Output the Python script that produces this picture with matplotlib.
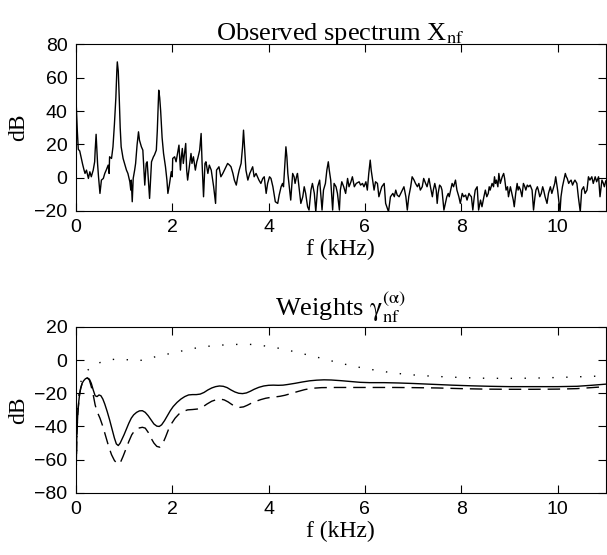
import numpy as np
import matplotlib
matplotlib.use("Agg")
import matplotlib.pyplot as plt

plt.rcParams['font.family'] = ['Liberation Sans', 'DejaVu Sans']
plt.rcParams['mathtext.fontset'] = 'stix'

# observed spectrum (kHz, dB)
spec_khz = [
    0.00, 0.03, 0.05, 0.08, 0.11, 0.14, 0.17, 0.19, 0.22, 0.26,
    0.29, 0.32, 0.36, 0.39, 0.40, 0.42, 0.45, 0.47, 0.50, 0.53,
    0.57, 0.60, 0.63, 0.67, 0.69, 0.70, 0.74, 0.77, 0.80, 0.83,
    0.85, 0.86, 0.88, 0.90, 0.92, 0.94, 0.98, 1.01, 1.05, 1.08,
    1.12, 1.14, 1.15, 1.17, 1.19, 1.22, 1.24, 1.27, 1.30, 1.32,
    1.36, 1.39, 1.43, 1.45, 1.46, 1.48, 1.53, 1.57, 1.61, 1.63,
    1.67, 1.69, 1.71, 1.72, 1.74, 1.76, 1.79, 1.82, 1.86, 1.89,
    1.91, 1.94, 1.98, 2.00, 2.01, 2.05, 2.08, 2.11, 2.14, 2.17,
    2.19, 2.21, 2.23, 2.28, 2.30, 2.32, 2.36, 2.39, 2.41, 2.44,
    2.48, 2.51, 2.53, 2.57, 2.60, 2.62, 2.65, 2.68, 2.70, 2.74,
    2.77, 2.81, 2.86, 2.90, 2.92, 2.97, 3.01, 3.05, 3.10, 3.15,
    3.19, 3.22, 3.26, 3.29, 3.33, 3.36, 3.39, 3.43, 3.46, 3.48,
    3.50, 3.53, 3.57, 3.61, 3.67, 3.70, 3.74, 3.80, 3.84, 3.88,
    3.91, 3.95, 3.98, 4.02, 4.05, 4.09, 4.14, 4.19, 4.22, 4.26,
    4.29, 4.31, 4.34, 4.36, 4.38, 4.40, 4.43, 4.46, 4.50, 4.53,
    4.55, 4.58, 4.60, 4.64, 4.67, 4.71, 4.74, 4.77, 4.81, 4.84,
    4.88, 4.91, 4.95, 4.98, 5.02, 5.06, 5.11, 5.14, 5.18, 5.21,
    5.24, 5.26, 5.29, 5.33, 5.36, 5.40, 5.43, 5.47, 5.49, 5.52,
    5.56, 5.60, 5.64, 5.67, 5.71, 5.74, 5.78, 5.82, 5.88, 5.91,
    5.95, 5.98, 6.02, 6.05, 6.08, 6.11, 6.13, 6.15, 6.19, 6.22,
    6.26, 6.29, 6.35, 6.40, 6.43, 6.49, 6.53, 6.58, 6.61, 6.64,
    6.67, 6.71, 6.76, 6.81, 6.85, 6.88, 6.91, 6.95, 6.98, 7.02,
    7.05, 7.09, 7.12, 7.15, 7.19, 7.22, 7.26, 7.29, 7.33, 7.36,
    7.40, 7.42, 7.45, 7.48, 7.50, 7.52, 7.55, 7.58, 7.60, 7.64,
    7.67, 7.70, 7.73, 7.75, 7.78, 7.81, 7.84, 7.88, 7.91, 7.95,
    7.98, 8.02, 8.05, 8.09, 8.12, 8.16, 8.18, 8.21, 8.24, 8.27,
    8.29, 8.33, 8.36, 8.40, 8.43, 8.47, 8.50, 8.53, 8.56, 8.58,
    8.60, 8.64, 8.67, 8.69, 8.71, 8.73, 8.76, 8.78, 8.81, 8.85,
    8.88, 8.90, 8.93, 8.96, 8.98, 9.02, 9.05, 9.08, 9.10, 9.13,
    9.16, 9.18, 9.20, 9.23, 9.26, 9.29, 9.32, 9.34, 9.37, 9.40,
    9.43, 9.47, 9.50, 9.53, 9.55, 9.58, 9.60, 9.63, 9.66, 9.69,
    9.71, 9.74, 9.78, 9.81, 9.85, 9.88, 9.91, 9.94, 9.96, 9.98,
    10.00, 10.03, 10.05, 10.07, 10.10, 10.13, 10.16, 10.18, 10.20, 10.23,
    10.25, 10.28, 10.31, 10.34, 10.36, 10.40, 10.43, 10.47, 10.50, 10.54,
    10.57, 10.61, 10.64, 10.67, 10.71, 10.74, 10.78, 10.81, 10.85, 10.88,
    10.92, 10.95, 10.97, 11.00,
]
spec_db = [
    49, 28, 17, 16, 12, 8, 4.5, 2.5, 4.5, -0.5,
    3.5, 0.5, 4.5, 9.5, 16, 26, 8.5, 0.5, -9.5, -1.5,
    -0.5, 2.5, 4.5, 7.5, 2.5, 12.5, 11.5, 18.5, 32, 48,
    64, 69.5, 64, 48, 30, 18.5, 11.5, 8.5, 4.5, 2.5,
    -2.5, -7.5, -1.5, -14.5, -0.5, 4.5, 8.5, 19.5, 27.5, 22.5,
    18.5, 16.5, -4.5, 4.5, 8.5, 9.5, -12.5, 9.5, 12.5, 13.5,
    16.5, 28, 44, 52.5, 48, 40, 24, 14.5, 6.5, -1.5,
    -9.5, -4.5, 3.5, 0.5, 11.5, 12.5, 9.5, 14.5, 19.5, 4.5,
    12.5, 17.5, 8.5, 20.5, 4.5, -1.5, 7.5, 14.5, 8.5, 12.5,
    4.5, 9.5, 11.5, 16.5, 26.5, 8.5, -11.5, 8.5, 9.5, 2.5,
    7.5, 4.5, -5.5, -15.5, 4.5, 6.5, 0.5, 2.5, 5.5, 8.5,
    7.5, 6.5, 2.5, -1.5, -4.5, 0.5, 4.5, 8.5, 18.5, 28.5,
    18.5, 4.5, -1.5, 2.5, 6.5, 0.5, 2.5, -1.5, -3.5, -0.5,
    0.5, -9.5, -3.5, 0.5, -0.5, -5.5, -14.5, -15.5, -10.5, -5.5,
    -3.5, -5.5, 8.5, 18.5, 12.5, 2.5, -5.5, -13.5, 2.5, 0.5,
    -3.5, 0.5, 2.5, -7.5, -15.5, -11.5, -5.5, -9.5, -17.5, -19.5,
    -7.5, -3.5, -9.5, -20.5, -5.5, -1.5, -19.5, -7.5, -3.5, 4.5,
    9.5, 4.5, -1.5, -19.5, -3.5, -5.5, -9.5, -19.5, -7.5, -2.5,
    -5.5, -9.5, -0.5, -5.5, -2.5, 0.5, -5.5, -3.5, -2.5, -4.5,
    -3.5, -5.5, -2.5, -7.5, 2.5, 10.5, 4.5, 0.5, -7.5, -2.5,
    -3.5, -11.5, -5.5, -3.5, -15.5, -20.5, -11.5, -9.5, -11.5, -7.5,
    -10.5, -11.5, -8.5, -5.5, -11.5, -19.5, -11.5, -5.5, 0.5, -1.5,
    -3.5, -5.5, -3.5, -7.5, -5.5, -0.5, -3.5, -5.5, -0.5, -5.5,
    -11.5, -7.5, -3.5, -7.5, -15.5, -9.5, -4.5, -5.5, -7.5, -19.5,
    -15.5, -11.5, -9.5, -11.5, -7.5, -3.5, -5.5, -1.5, -7.5, -11.5,
    -15.5, -9.5, -11.5, -10.5, -13.5, -9.5, -10.5, -11.5, -19.5, -11.5,
    -7.5, -5.5, -19.5, -13.5, -17.5, -11.5, -7.5, -11.5, -9.5, -5.5,
    -7.5, -3.5, -5.5, 0.5, -3.5, -1.5, -5.5, 2.5, -3.5, 0.5,
    2.5, -0.5, -7.5, -5.5, -11.5, -5.5, -9.5, -13.5, -17.5, -9.5,
    -3.5, -7.5, -5.5, -7.5, -11.5, -3.5, -5.5, -7.5, -4.5, -5.5,
    -4.5, -7.5, -19.5, -11.5, -7.5, -5.5, -7.5, -11.5, -9.5, -5.5,
    -7.5, -11.5, -15.5, -9.5, -5.5, -9.5, -6.5, -3.5, 0.5, -3.5,
    -7.5, -15.5, -20.5, -11.5, -5.5, -1.5, 2.5, 0.5, -0.5, -3.5,
    -2.5, -1.5, -4.5, -2.5, -1.5, -3.5, -11.5, -20.5, -7.5, -5.5,
    -9.5, -7.5, 0.5, -1.5, 0.5, -3.5, 0.5, -2.5, 0.5, -11.5,
    -1.5, -3.5, -5.5, -2,
]
assert len(spec_khz) == len(spec_db)

# weights, three settings of alpha
w_solid_khz = [0.00, 0.01, 0.02, 0.04, 0.06, 0.08, 0.10, 0.13, 0.16, 0.20,
               0.24, 0.28, 0.32, 0.36, 0.40, 0.44, 0.48, 0.52, 0.56, 0.60,
               0.65, 0.70, 0.75, 0.80, 0.84, 0.88, 0.92, 0.96, 1.00, 1.05,
               1.10, 1.15, 1.20, 1.26, 1.32, 1.38, 1.44, 1.50, 1.56, 1.62,
               1.68, 1.73, 1.78, 1.84, 1.90, 1.96, 2.02, 2.10, 2.18, 2.26,
               2.34, 2.42, 2.50, 2.58, 2.66, 2.74, 2.82, 2.90, 2.98, 3.06,
               3.14, 3.22, 3.30, 3.38, 3.46, 3.54, 3.62, 3.70, 3.80, 3.90,
               4.00, 4.10, 4.20, 4.30, 4.40, 4.55, 4.70, 4.85, 5.00, 5.15,
               5.30, 5.50, 5.70, 5.90, 6.10, 6.40, 6.70, 7.00, 7.40, 7.80,
               8.20, 8.60, 9.00, 9.50, 10.00, 10.40, 10.70, 11.00]
w_solid_db = [-80, -60, -45, -32, -25, -20, -17, -14, -12.5, -11.2,
              -10.8, -11.5, -14, -18, -21.5, -22, -21, -21.5, -23.5, -26.5,
              -31, -36, -41.5, -47, -50.5, -51.5, -50, -47.5, -45, -41.5,
              -38, -35, -33, -31.5, -30.6, -30.5, -31.5, -33.5, -36, -38.5,
              -39.8, -40, -39, -36.5, -33.5, -30.5, -28, -25.5, -23.5, -22,
              -21, -20.8, -20.8, -20.5, -19.5, -18, -16.8, -16, -15.6, -15.8,
              -16.6, -18, -19.2, -20, -20.2, -19.8, -18.8, -17.6, -16.4, -15.6,
              -15.2, -15.1, -15.2, -15.1, -14.7, -14, -13.2, -12.5, -12.1, -11.9,
              -12, -12.4, -12.9, -13.4, -13.6, -13.6, -13.8, -14.1, -14.6, -15.1,
              -15.5, -15.8, -16, -16, -16, -15.8, -15.2, -14.5]

w_dash_khz = [0.00, 0.01, 0.02, 0.04, 0.06, 0.08, 0.10, 0.13, 0.16, 0.20,
              0.24, 0.28, 0.32, 0.36, 0.40, 0.44, 0.50, 0.56, 0.62, 0.68,
              0.74, 0.80, 0.86, 0.92, 0.98, 1.04, 1.10, 1.16, 1.22, 1.30,
              1.38, 1.44, 1.50, 1.56, 1.62, 1.68, 1.74, 1.80, 1.86, 1.92,
              1.98, 2.06, 2.14, 2.22, 2.32, 2.42, 2.52, 2.62, 2.72, 2.82,
              2.92, 3.00, 3.08, 3.16, 3.24, 3.32, 3.40, 3.48, 3.56, 3.64,
              3.74, 3.84, 3.94, 4.04, 4.14, 4.24, 4.34, 4.46, 4.60, 4.75,
              4.90, 5.10, 5.40, 5.80, 6.20, 6.60, 7.00, 7.50, 8.00, 8.50,
              9.00, 9.50, 10.00, 10.40, 10.70, 11.00]
w_dash_db = [-80, -60, -45, -32, -25, -20, -17, -14, -12.5, -11.2,
             -10.8, -12, -16, -21, -27, -31, -35, -40, -46, -52,
             -57, -60.5, -62.5, -62, -58, -53.5, -49, -45, -42.5, -41,
             -40.5, -41, -43.5, -47, -50, -52, -52.5, -50.5, -46.5, -42,
             -38.5, -35, -32.5, -31, -30, -29.8, -29.5, -28.5, -26.5, -24.8,
             -23.8, -23.5, -24, -25.2, -26.8, -28, -28.5, -28.2, -27.2, -26,
             -24.8, -23.8, -23, -22.5, -22.2, -21.8, -21.2, -20.2, -19, -17.8,
             -17, -16.6, -16.5, -16.5, -16.5, -16.5, -16.6, -16.8, -17.2, -17.5,
             -17.6, -17.6, -17.5, -17.2, -16.6, -16]

w_dot_khz = [0.00, 0.03, 0.08, 0.15, 0.25, 0.35, 0.50, 0.65, 0.80, 0.95,
             1.10, 1.25, 1.40, 1.55, 1.70, 1.85, 2.00, 2.20, 2.40, 2.60,
             2.80, 3.00, 3.20, 3.40, 3.60, 3.80, 4.00, 4.20, 4.40, 4.60,
             4.80, 5.00, 5.20, 5.40, 5.60, 5.80, 6.00, 6.30, 6.60, 6.90,
             7.20, 7.60, 8.00, 8.40, 8.80, 9.20, 9.60, 10.00, 10.40, 10.80,
             11.00]
w_dot_db = [-80, -30, -15, -9.5, -6, -3.5, -1.5, -0.2, 0.5, 0.6,
            0.1, -0.4, 0, 1.2, 2.4, 3.3, 4.2, 5.5, 6.8, 7.8,
            8.5, 9, 9.3, 9.5, 9.5, 9, 8.2, 7.2, 6, 4.6,
            3.2, 1.8, 0.3, -1.2, -2.6, -3.9, -5, -6.5, -7.8, -8.7,
            -9.4, -10, -10.5, -10.9, -11, -11, -10.8, -10.5, -10.1, -9.7,
            -9.5]

xticks = [0, 2, 4, 6, 8, 10]
top_yticks = [-20, 0, 20, 40, 60, 80]
bot_yticks = [-80, -60, -40, -20, 0, 20]

serif = ['Liberation Serif', 'DejaVu Serif']

fig = plt.figure(figsize=(6.07, 5.55), dpi=100)
ax1 = fig.add_axes([0.125, 0.620, 0.873, 0.300])
ax2 = fig.add_axes([0.125, 0.112, 0.873, 0.299])

ax1.plot(spec_khz, spec_db, color='black', lw=1.0)
ax1.set_ylim(-20, 80)
ax1.set_yticks(top_yticks)
ax1.set_title(r'Observed spectrum X$_{\mathrm{nf}}$', family=serif, fontsize=19, pad=3)

ax2.plot(w_dot_khz, w_dot_db, color='black', lw=1.0, ls=(0, (1, 9)))
ax2.plot(w_dash_khz, w_dash_db, color='black', lw=1.0, ls=(0, (9, 5)))
ax2.plot(w_solid_khz, w_solid_db, color='black', lw=1.0)
ax2.set_ylim(-80, 20)
ax2.set_yticks(bot_yticks)
ax2.set_title(r'Weights $\mathrm{\gamma}_{\mathrm{nf}}^{(\mathrm{\alpha})}$', family=serif, fontsize=19, pad=8)

for ax in (ax1, ax2):
    ax.set_xlim(0, 11)
    ax.set_xticks(xticks)
    ax.set_xlabel('f (kHz)', family=serif, fontsize=17, labelpad=2)
    ax.set_ylabel('dB', family=serif, fontsize=17, labelpad=4)
    ax.tick_params(direction='in', top=True, right=True, length=6, width=0.8, labelsize=14, pad=6)
    for s in ax.spines.values():
        s.set_linewidth(0.8)

fig.savefig('out.png', dpi=100)
